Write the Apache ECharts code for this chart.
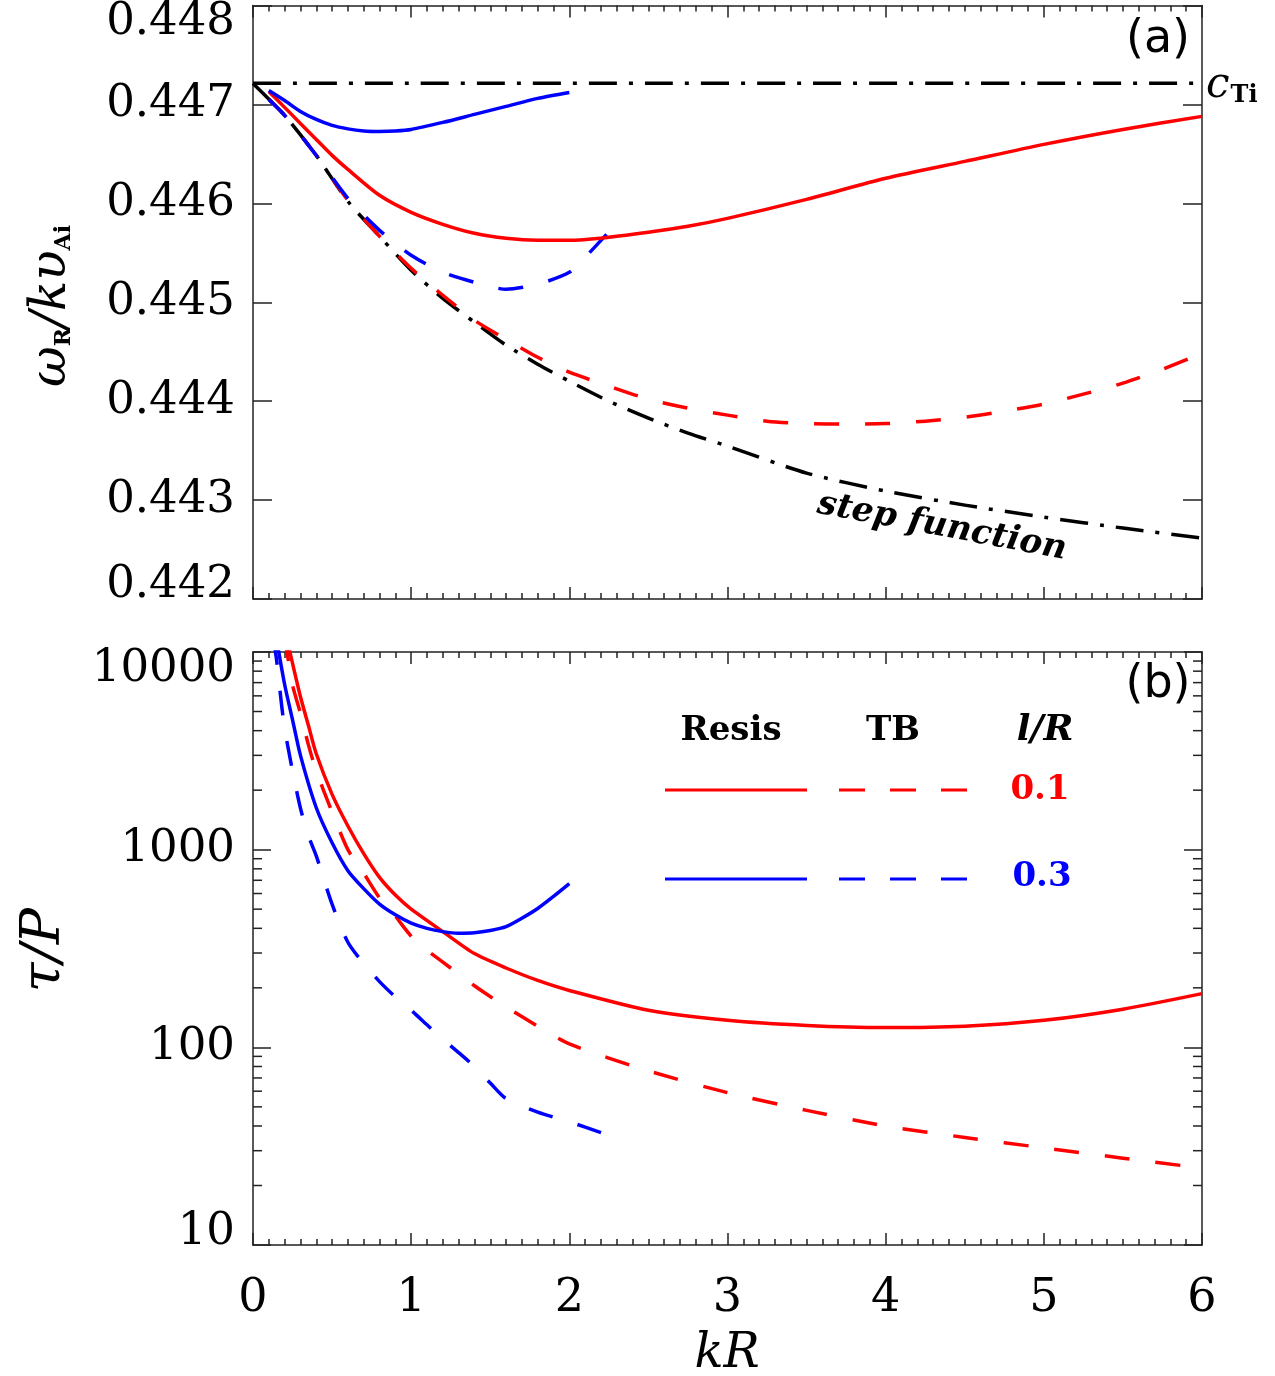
<!DOCTYPE html>
<html><head><meta charset="utf-8">
<script src="https://cdn.jsdelivr.net/npm/echarts@6/dist/echarts.min.js"></script>
<style>html,body{margin:0;padding:0;background:#fff}#c{width:1275px;height:1376px}</style>
</head><body><div id="c"></div>
<script>
// ---------- Panel (a): omega_R / k v_Ai ----------
const cTi = 0.4472136;
const cTiK = [0, 6];
const stepK = [0,0.2,0.4,0.6,0.8,1.0,1.2,1.4,1.6,1.8,2.0,2.25,2.5,2.75,3.0,3.5,4.0,4.5,5.0,5.5,6.0];
const stepW = [0.447212,0.446889,0.446485,0.446020,0.445667,0.445323,0.445040,0.444798,0.444566,0.444374,0.444202,0.444000,0.443828,0.443677,0.443545,0.443273,0.443091,0.442949,0.442828,0.442717,0.442616];
const resis01K = [0.1,0.2,0.3,0.4,0.5,0.6,0.8,1.0,1.2,1.4,1.6,1.8,2.0,2.25,2.5,2.75,3.0,3.5,4.0,4.5,5.0,5.5,6.0];
const resis01W = [0.447131,0.446970,0.446808,0.446646,0.446485,0.446343,0.446081,0.445909,0.445788,0.445697,0.445646,0.445626,0.445626,0.445657,0.445707,0.445768,0.445848,0.446040,0.446253,0.446424,0.446596,0.446747,0.446879];
const resis03K = [0.1,0.2,0.3,0.4,0.5,0.6,0.7,0.8,0.9,1.0,1.2,1.4,1.6,1.8,2.0];
const resis03W = [0.447141,0.447040,0.446929,0.446848,0.446788,0.446753,0.446732,0.446727,0.446732,0.446747,0.446818,0.446899,0.446980,0.447061,0.447121];
const tb01K = [0.1,0.2,0.4,0.6,0.8,1.0,1.2,1.4,1.6,1.8,2.0,2.25,2.5,2.75,3.0,3.25,3.5,3.75,4.0,4.25,4.5,4.75,5.0,5.25,5.5,5.75,6.0];
const tb01W = [0.447051,0.446889,0.446485,0.446030,0.445667,0.445343,0.445071,0.444818,0.444626,0.444444,0.444293,0.444152,0.444020,0.443929,0.443859,0.443798,0.443773,0.443768,0.443773,0.443798,0.443838,0.443899,0.443970,0.444071,0.444182,0.444323,0.444485];
const tb03K = [0.1,0.2,0.4,0.6,0.8,1.0,1.2,1.4,1.6,1.8,2.0,2.1,2.2,2.3];
const tb03W = [0.447051,0.446889,0.446485,0.446051,0.445727,0.445475,0.445303,0.445202,0.445131,0.445182,0.445303,0.445455,0.445626,0.445798];

// ---------- Panel (b): tau / P ----------
const resis01TK = [0.2,0.25,0.3,0.35,0.4,0.5,0.6,0.7,0.8,0.9,1.0,1.2,1.4,1.6,1.8,2.0,2.5,3.0,3.5,4.0,4.5,5.0,5.5,6.0];
const resis01T  = [13000,8750,5940,4260,3055,1905,1318,955,724,589,500,385,298,252,218,194,154,137,129,126,128,137,156,187];
const tb01TK = [0.2,0.25,0.3,0.35,0.4,0.5,0.6,0.7,0.8,0.9,1.0,1.1,1.2,1.4,1.6,1.8,2.0,2.5,3.0,3.5,4.0,4.5,5.0,5.5,6.0];
const tb01T  = [12000,6800,4900,3400,2500,1550,1000,760,570,460,365,310,270,205,160,128,104,76,59,48,40,35,31,27.5,24.5];
const resis03TK = [0.15,0.2,0.25,0.3,0.4,0.5,0.6,0.7,0.8,0.9,1.0,1.1,1.2,1.3,1.4,1.5,1.6,1.7,1.8,1.9,2.0];
const resis03T  = [11500,6850,4540,3000,1630,1084,783,635,530,468,425,400,385,378,380,390,408,450,504,580,673];
const tb03TK = [0.13,0.15,0.18,0.2,0.25,0.3,0.35,0.4,0.5,0.6,0.7,0.8,0.9,1.0,1.1,1.2,1.3,1.4,1.5,1.6,1.8,2.0,2.2,2.3];
const tb03T  = [11500,9000,5460,4100,2500,1620,1180,930,530,340,265,215,180,154,130,110,94,80,66,55,47,42,37,34.5];

const xTicks = [0,1,2,3,4,5,6];
const yTicksA = [0.442,0.443,0.444,0.445,0.446,0.447,0.448];
const logMinor = [20,30,40,50,60,70,80,90,200,300,400,500,600,700,800,900,2000,3000,4000,5000,6000,7000,8000,9000];

// ---------- build ----------
const zip = (a, b) => a.map((v, i) => [v, b[i]]);
const RED = '#ff0000', BLUE = '#0000ff', BLK = '#000000';
const DASH = [25, 26], DASHDOT = [28, 12, 4, 12];
const SERIF = 'DejaVu Serif';
const LW = 3.5;

const axisLineS = {show: true, onZero: false, lineStyle: {color: '#222', width: 1.5}};
function xAx(grid, pos, labels) {
  return {type: 'value', gridIndex: grid, position: pos, min: xTicks[0], max: xTicks[xTicks.length - 1], interval: 1,
    axisLine: axisLineS, splitLine: {show: false},
    axisTick: {show: true, inside: true, length: 12, lineStyle: {color: '#222', width: 1.5}},
    minorTick: {show: true, splitNumber: 10, length: 6, lineStyle: {color: '#222', width: 1.5}},
    axisLabel: {show: labels, margin: 31, color: '#000', fontFamily: SERIF, fontSize: 46,
      formatter: v => String(Math.round(v))}};
}
function yAxA(pos, labels) {
  return {type: 'value', gridIndex: 0, position: pos, min: yTicksA[0], max: yTicksA[yTicksA.length - 1], interval: 0.001,
    axisLine: axisLineS, splitLine: {show: false},
    axisTick: {show: true, inside: true, length: 19, lineStyle: {color: '#222', width: 1.5}},
    axisLabel: {show: labels, margin: 18, color: '#000', fontFamily: SERIF, fontSize: 45,
      formatter: v => { const s = v.toFixed(3);
        if (Math.abs(v - yTicksA[0]) < 1e-7) return '{lo|' + s + '}';
        if (Math.abs(v - yTicksA[yTicksA.length - 1]) < 1e-7) return '{hi|' + s + '}';
        return s; },
      rich: {lo: {fontFamily: SERIF, fontSize: 45, color: '#000', padding: [0, 0, 28, 0]},
             hi: {fontFamily: SERIF, fontSize: 45, color: '#000', padding: [34, 0, 0, 0]}}}};
}
function yAxB(pos, labels) {
  return {type: 'log', logBase: 10, gridIndex: 1, position: pos, min: 10, max: 10000,
    axisLine: axisLineS, splitLine: {show: false},
    axisTick: {show: true, inside: true, length: 18, lineStyle: {color: '#222', width: 1.5}},
    axisLabel: {show: labels, margin: 18, color: '#000', fontFamily: SERIF, fontSize: 45,
      formatter: v => { const r = Math.round(v); const s = String(r);
        if (r === 10) return '{lo|' + s + '}';
        if (r === 10000) return '{hi|' + s + '}';
        return s; },
      rich: {lo: {fontFamily: SERIF, fontSize: 45, color: '#000', padding: [0, 0, 26, 0]},
             hi: {fontFamily: SERIF, fontSize: 45, color: '#000', padding: [34, 0, 0, 0]}}}};
}
function line(xi, yi, data, color, type) {
  return {type: 'line', xAxisIndex: xi, yAxisIndex: yi, data: data, showSymbol: false, symbol: 'none',
    smooth: 0.25, clip: true, silent: true, animation: false,
    lineStyle: {color: color, width: LW, type: type, cap: 'butt', join: 'round'}};
}

const option = {
  backgroundColor: '#fff',
  animation: false,
  grid: [{left: 253, top: 5, width: 949, height: 594}, {left: 253, top: 652, width: 949, height: 593}],
  xAxis: [xAx(0, 'bottom', false), xAx(0, 'top', false), xAx(1, 'bottom', true), xAx(1, 'top', false)],
  yAxis: [yAxA('left', true), yAxA('right', false), yAxB('left', true), yAxB('right', false)],
  series: [
    line(0, 0, zip(cTiK, cTiK.map(() => cTi)), BLK, DASHDOT),
    line(0, 0, zip(stepK, stepW), BLK, DASHDOT),
    line(0, 0, zip(tb01K, tb01W), RED, DASH),
    line(0, 0, zip(tb03K, tb03W), BLUE, DASH),
    line(0, 0, zip(resis01K, resis01W), RED, 'solid'),
    line(0, 0, zip(resis03K, resis03W), BLUE, 'solid'),
    line(2, 2, zip(resis01TK, resis01T), RED, 'solid'),
    line(2, 2, zip(tb01TK, tb01T), RED, DASH),
    line(2, 2, zip(resis03TK, resis03T), BLUE, 'solid'),
    line(2, 2, zip(tb03TK, tb03T), BLUE, DASH),
    {type: 'custom', xAxisIndex: 2, yAxisIndex: 2, silent: true, clip: false, z: 5,
     data: logMinor.map(v => [0, v]),
     renderItem: (params, api) => {
       const y = api.coord([0, api.value(1)])[1];
       const xl = params.coordSys.x, xr = xl + params.coordSys.width;
       const st = {stroke: '#222', lineWidth: 1.5};
       return {type: 'group', children: [
         {type: 'line', shape: {x1: xl, y1: y, x2: xl + 9, y2: y}, style: st},
         {type: 'line', shape: {x1: xr - 9, y1: y, x2: xr, y2: y}, style: st}]};
     }}
  ],
  graphic: [
    {type: 'text', x: 1158, y: 40, style: {text: '(a)', font: '46px DejaVu Sans', fill: '#000', textAlign: 'center', textVerticalAlign: 'middle'}},
    {type: 'text', x: 1158, y: 685, style: {text: '(b)', font: '46px DejaVu Sans', fill: '#000', textAlign: 'center', textVerticalAlign: 'middle'}},
    {type: 'text', x: 1206, y: 86, style: {text: '{c|c}{s|Ti}', textAlign: 'left', textVerticalAlign: 'middle',
      rich: {c: {fontFamily: SERIF, fontStyle: 'italic', fontSize: 42, fill: '#000'},
             s: {fontFamily: SERIF, fontWeight: 'bold', fontSize: 24, fill: '#000', padding: [20, 0, 0, 1]}}}},
    {type: 'text', x: 942, y: 527, rotation: -0.185, style: {text: 'step function', font: 'italic bold 34px DejaVu Serif', fill: '#000', textAlign: 'center', textVerticalAlign: 'middle'}},
    {type: 'text', x: 52, y: 306, rotation: Math.PI / 2, style: {text: '{m|ω}{s|R}{m|/kυ}{s|Ai}', textAlign: 'center', textVerticalAlign: 'middle',
      rich: {m: {fontFamily: SERIF, fontStyle: 'italic', fontSize: 50, fill: '#000'},
             s: {fontFamily: SERIF, fontWeight: 'bold', fontSize: 22, fill: '#000', padding: [24, 0, 0, 0]}}}},
    {type: 'text', x: 45, y: 950, rotation: Math.PI / 2, style: {text: 'τ/P', font: 'italic 54px DejaVu Serif', fill: '#000', textAlign: 'center', textVerticalAlign: 'middle'}},
    {type: 'text', x: 727, y: 1355, style: {text: 'kR', font: 'italic 48px DejaVu Serif', fill: '#000', textAlign: 'center', textVerticalAlign: 'middle'}},
    // legend table
    {type: 'text', x: 731, y: 731, style: {text: 'Resis', font: 'bold 34px DejaVu Serif', fill: '#000', textAlign: 'center', textVerticalAlign: 'middle'}},
    {type: 'text', x: 893, y: 731, style: {text: 'TB', font: 'bold 34px DejaVu Serif', fill: '#000', textAlign: 'center', textVerticalAlign: 'middle'}},
    {type: 'text', x: 1045, y: 731, style: {text: 'l/R', font: 'italic bold 36px DejaVu Serif', fill: '#000', textAlign: 'center', textVerticalAlign: 'middle'}},
    {type: 'line', shape: {x1: 665, y1: 790, x2: 807, y2: 790}, style: {stroke: RED, lineWidth: 3}},
    {type: 'line', shape: {x1: 839, y1: 790, x2: 967, y2: 790}, style: {stroke: RED, lineWidth: 3, lineDash: [26, 25]}},
    {type: 'text', x: 1040, y: 790, style: {text: '0.1', font: 'bold 34px DejaVu Serif', fill: RED, textAlign: 'center', textVerticalAlign: 'middle'}},
    {type: 'line', shape: {x1: 665, y1: 879, x2: 807, y2: 879}, style: {stroke: BLUE, lineWidth: 3}},
    {type: 'line', shape: {x1: 839, y1: 879, x2: 967, y2: 879}, style: {stroke: BLUE, lineWidth: 3, lineDash: [26, 25]}},
    {type: 'text', x: 1042, y: 877, style: {text: '0.3', font: 'bold 34px DejaVu Serif', fill: BLUE, textAlign: 'center', textVerticalAlign: 'middle'}}
  ]
};
const chart = echarts.init(document.getElementById('c'), null, {renderer: 'canvas'});
chart.setOption(option);
</script>
</body></html>
